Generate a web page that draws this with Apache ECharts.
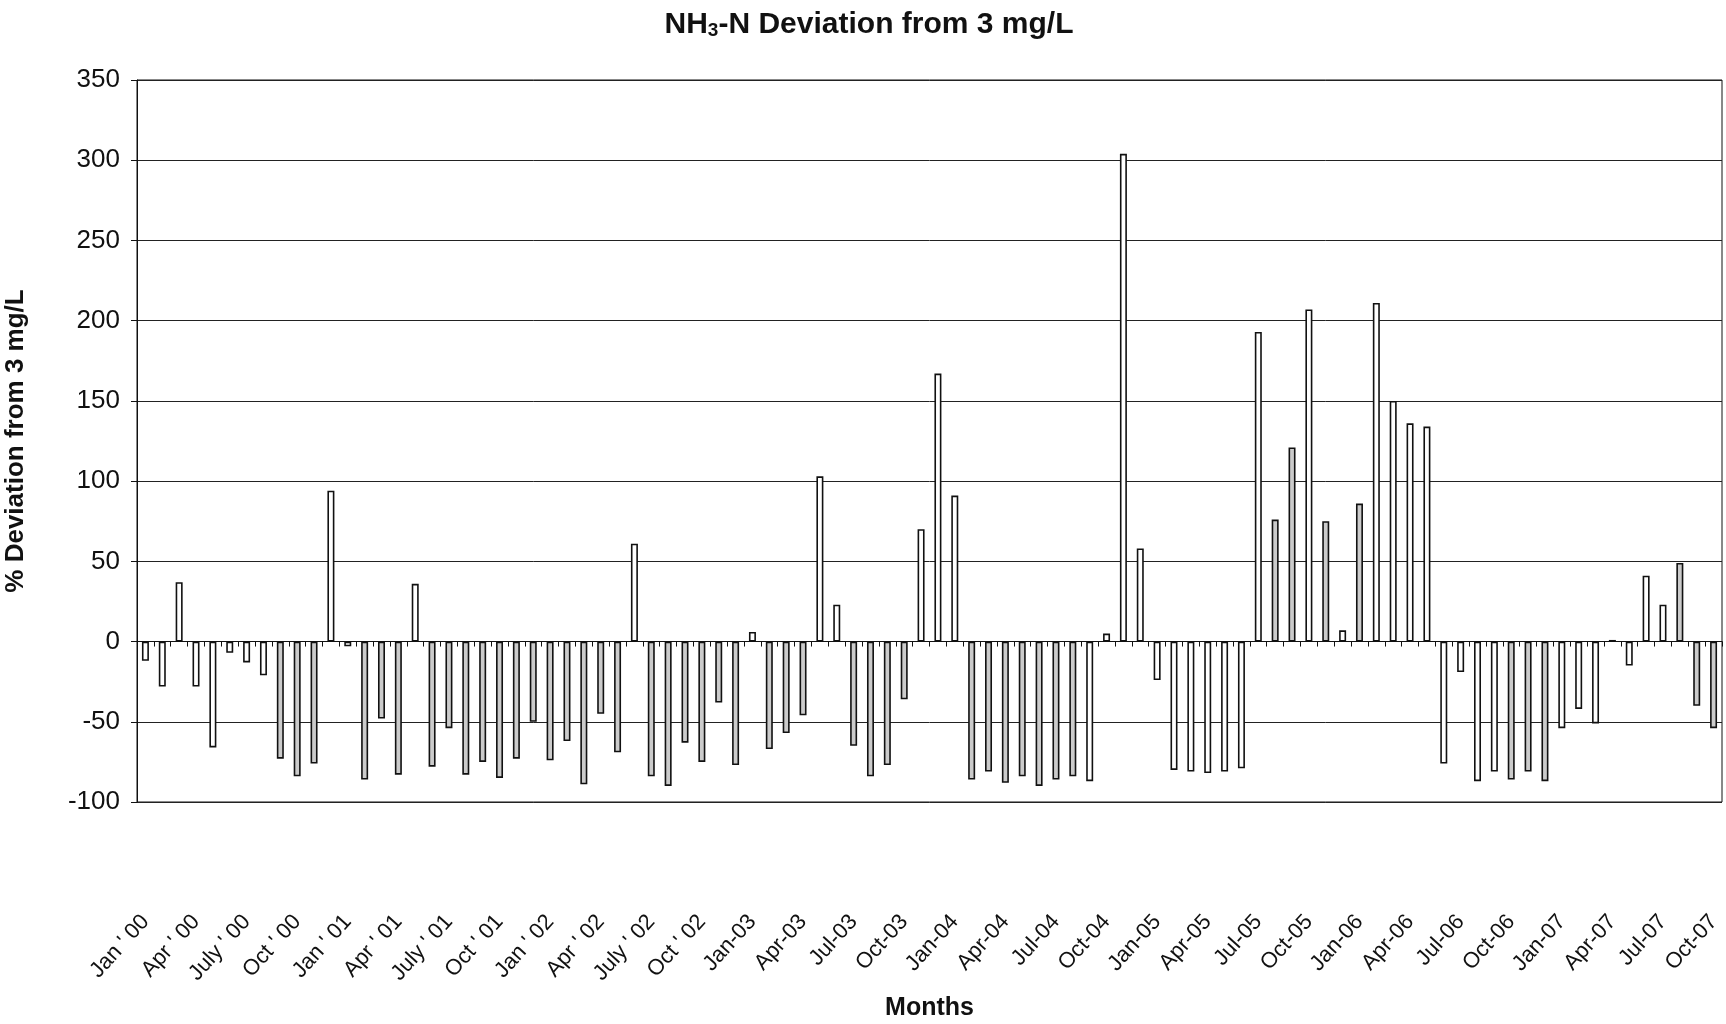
<!DOCTYPE html>
<html>
<head>
    <meta http-equiv="Content-Type" content="text/html; charset=utf-8" />
    <title>NH3-N Deviation from 3 mg/L</title>
    <style>
        html, body { margin: 0; padding: 0; background: #fff; }
        #chart { width: 1726px; height: 1024px; }
    </style>
</head>
<body>
    <div id="chart"></div>
    <script src="https://cdn.jsdelivr.net/npm/echarts@6/dist/echarts.min.js" type="text/javascript"></script>
    <script type="text/javascript">
        // month categories, Jan 2000 - Oct 2007
        var months = [
            "Jan ' 00", "Feb ' 00", "Mar ' 00", "Apr ' 00", "May ' 00", "June ' 00", "July ' 00", "Aug ' 00", "Sep ' 00", "Oct ' 00", "Nov ' 00", "Dec ' 00",
            "Jan ' 01", "Feb ' 01", "Mar ' 01", "Apr ' 01", "May ' 01", "June ' 01", "July ' 01", "Aug ' 01", "Sep ' 01", "Oct ' 01", "Nov ' 01", "Dec ' 01",
            "Jan ' 02", "Feb ' 02", "Mar ' 02", "Apr ' 02", "May ' 02", "June ' 02", "July ' 02", "Aug ' 02", "Sep ' 02", "Oct ' 02", "Nov ' 02", "Dec ' 02",
            "Jan-03", "Feb-03", "Mar-03", "Apr-03", "May-03", "Jun-03", "Jul-03", "Aug-03", "Sep-03", "Oct-03", "Nov-03", "Dec-03",
            "Jan-04", "Feb-04", "Mar-04", "Apr-04", "May-04", "Jun-04", "Jul-04", "Aug-04", "Sep-04", "Oct-04", "Nov-04", "Dec-04",
            "Jan-05", "Feb-05", "Mar-05", "Apr-05", "May-05", "Jun-05", "Jul-05", "Aug-05", "Sep-05", "Oct-05", "Nov-05", "Dec-05",
            "Jan-06", "Feb-06", "Mar-06", "Apr-06", "May-06", "Jun-06", "Jul-06", "Aug-06", "Sep-06", "Oct-06", "Nov-06", "Dec-06",
            "Jan-07", "Feb-07", "Mar-07", "Apr-07", "May-07", "Jun-07", "Jul-07", "Aug-07", "Sep-07", "Oct-07"
        ];

        // % deviation from 3 mg/L
        var deviation = [
            -12, -28, 37, -28, -66, -7, -13, -21, -73, -84, -76, 94,
            -3, -86, -48, -83, 36, -78, -54, -83, -75, -85, -73, -50,
            -74, -62, -89, -45, -69, 61, -84, -90, -63, -75, -38, -77,
            6, -67, -57, -46, 103, 23, -65, -84, -77, -36, 70, 167,
            91, -86, -81, -88, -84, -90, -86, -84, -87, 5, 304, 58,
            -24, -80, -81, -82, -81, -79, 193, 76, 121, 207, 75, 7,
            86, 211, 150, 136, 134, -76, -19, -87, -81, -86, -81, -87,
            -54, -42, -51, 1, -15, 41, 23, 49, -40, -54
        ];

        var yTicks = { min: -100, max: 350, step: 50 };

        // bars that came out grey in the scanned original (0-based)
        var greyBars = [8, 9, 10, 13, 14, 15, 17, 18, 19, 20, 21, 22, 23, 24, 25, 26, 27, 28,
            30, 31, 32, 33, 34, 35, 37, 38, 39, 42, 43, 44, 45, 49, 50, 51, 52, 53, 54, 55,
            67, 68, 70, 72, 81, 82, 83, 91, 92, 93];

        var font = "'Liberation Sans', Arial, sans-serif";
        var chart = echarts.init(document.getElementById("chart"));

        var option = {
            backgroundColor: '#fff',
            animation: false,
            title: {
                text: '{a|NH}{s|3}{a|-N Deviation from 3 mg/L}',
                left: 864,
                top: 4,
                textAlign: 'center',
                textStyle: {
                    rich: {
                        a: { fontFamily: font, fontWeight: 'bold', fontSize: 30, color: '#111' },
                        s: { fontFamily: font, fontWeight: 'bold', fontSize: 19, color: '#111', padding: [12, 0, 0, 0] }
                    }
                }
            },
            grid: {
                left: 137,
                right: 4,
                top: 80,
                bottom: 222,
                containLabel: false,
                outerBoundsMode: 'none',
                show: true,
                borderColor: '#111',
                borderWidth: 1
            },
            xAxis: {
                type: 'category',
                data: months,
                name: 'Months',
                nameLocation: 'middle',
                nameGap: 194,
                nameTextStyle: { fontFamily: font, fontWeight: 'bold', fontSize: 25, color: '#111' },
                axisLine: { onZero: true, lineStyle: { color: '#111', width: 1 } },
                axisTick: { show: true, interval: 0, length: 5, lineStyle: { color: '#111' } },
                axisLabel: {
                    interval: 2,
                    rotate: 48,
                    margin: 116,
                    fontFamily: font,
                    fontSize: 22,
                    color: '#111'
                },
                splitLine: { show: false }
            },
            yAxis: {
                type: 'value',
                min: yTicks.min,
                max: yTicks.max,
                interval: yTicks.step,
                name: '% Deviation from 3 mg/L',
                nameLocation: 'middle',
                nameGap: 108,
                nameTextStyle: { fontFamily: font, fontWeight: 'bold', fontSize: 26, color: '#111' },
                axisLine: { show: true, lineStyle: { color: '#111' } },
                axisTick: { show: true, length: 6, lineStyle: { color: '#111' } },
                axisLabel: { margin: 17, fontFamily: font, fontSize: 26, color: '#111' },
                splitLine: { show: true, lineStyle: { color: '#222', width: 1 } }
            },
            series: [
                {
                    name: 'Deviation',
                    type: 'bar',
                    data: deviation,
                    barWidth: 7,
                    itemStyle: {
                        color: function (p) {
                            return greyBars.indexOf(p.dataIndex) >= 0 ? '#cbcbcb' : '#ffffff';
                        },
                        borderColor: '#111',
                        borderWidth: 1.6
                    }
                }
            ]
        };
        chart.setOption(option);
    </script>
</body>
</html>
